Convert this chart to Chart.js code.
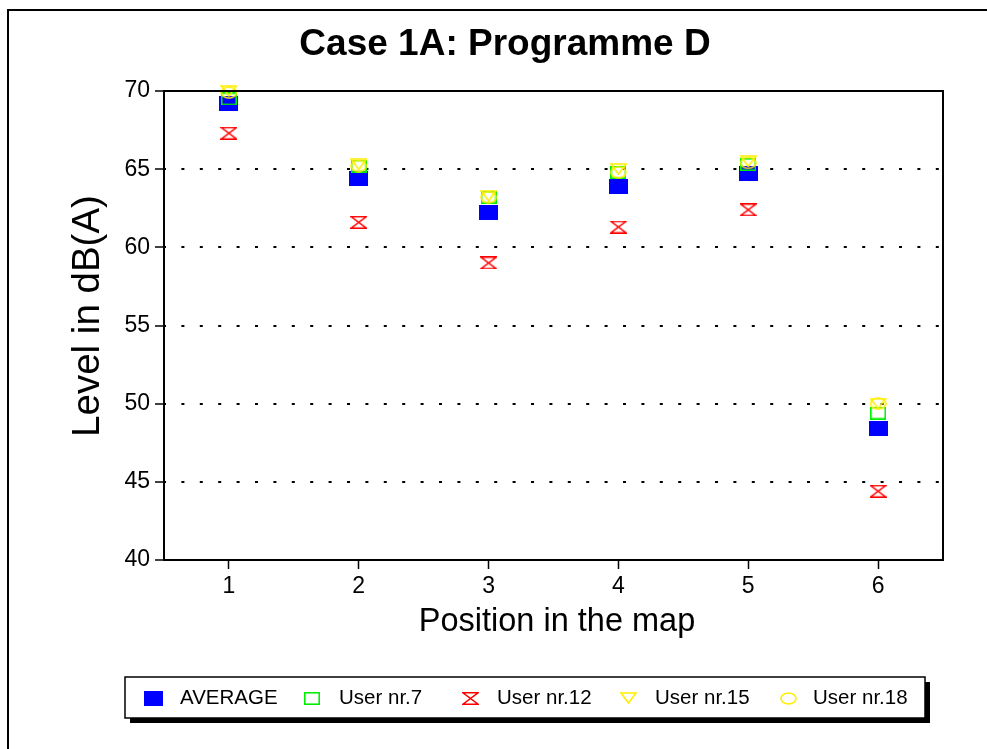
<!DOCTYPE html>
<html>
<head>
<meta charset="utf-8">
<style>
  html, body { margin: 0; padding: 0; background: #ffffff; }
  #wrap { width: 987px; height: 749px; }
</style>
<script src="https://cdn.jsdelivr.net/npm/chart.js@4/dist/chart.umd.min.js"></script>
</head>
<body>
<div id="wrap"><canvas id="c" width="987" height="749"></canvas></div>
<script>
// Measurement positions and levels (dB(A)) per listener
const positions = [1, 2, 3, 4, 5, 6];
const average = [69.2, 64.4, 62.2, 63.9, 64.7, 48.4];
const user7   = [69.5, 65.2, 63.2, 64.8, 65.3, 49.4];
const user12  = [67.3, 61.6, 59.0, 61.3, 62.4, 44.4];
const user15  = [70.0, 65.3, 63.3, 65.0, 65.5, 50.0];
const user18  = [69.9, 65.2, 63.2, 64.8, 65.4, 50.0];
const yTicks = [40, 45, 50, 55, 60, 65, 70];
const seriesNames = ['AVERAGE', 'User nr.7', 'User nr.12', 'User nr.15', 'User nr.18'];

const FONT = '"Liberation Sans", Arial, Helvetica, sans-serif';

// Marker bitmaps (slightly wider than tall)
function makeMarker(w, h, draw) {
  const cv = document.createElement('canvas');
  cv.width = w; cv.height = h;
  const g = cv.getContext('2d');
  draw(g, w, h);
  return cv;
}
const mkFilledRect = makeMarker(19, 15, (g, w, h) => {
  g.fillStyle = '#0000ff'; g.fillRect(0, 0, w, h);
});
const mkOpenRect = makeMarker(16, 13, (g, w, h) => {
  g.strokeStyle = '#00ee00'; g.lineWidth = 1.6; g.strokeRect(0.8, 0.8, w - 1.6, h - 1.6);
});
const mkHourglass = makeMarker(17, 13, (g, w, h) => {
  g.strokeStyle = '#ff0000'; g.lineWidth = 1.4;
  g.beginPath();
  g.moveTo(1, 0.8); g.lineTo(w - 1, 0.8);
  g.lineTo(1, h - 0.8); g.lineTo(w - 1, h - 0.8);
  g.closePath();
  g.stroke();
});
const mkTriangle = makeMarker(17, 12, (g, w, h) => {
  g.strokeStyle = '#ffee00'; g.lineWidth = 1.6;
  g.beginPath();
  g.moveTo(1, 1); g.lineTo(w - 1, 1); g.lineTo(w / 2, h - 1); g.closePath();
  g.stroke();
});
const mkCircle = makeMarker(17, 13, (g, w, h) => {
  g.strokeStyle = '#ffee00'; g.lineWidth = 1.6;
  g.beginPath();
  g.ellipse(w / 2, h / 2, w / 2 - 1, h / 2 - 1, 0, 0, Math.PI * 2);
  g.stroke();
});
const markers = [mkFilledRect, mkOpenRect, mkHourglass, mkTriangle, mkCircle];
const seriesValues = [average, user7, user12, user15, user18];

const toPoints = vals => positions.map((p, i) => ({ x: p, y: vals[i] }));

const datasets = seriesNames.map((name, k) => ({
  label: name,
  data: toPoints(seriesValues[k]),
  pointStyle: markers[k],
  pointRadius: 8,
  pointHoverRadius: 8,
  showLine: false,
  order: 5 - k,
  clip: false
}));

const PLOT = { left: 164, top: 91, right: 943, bottom: 560 };

// Frame, plot box, titles and boxed legend
const decorations = {
  id: 'decorations',
  beforeDraw(chart) {
    const ctx = chart.ctx;
    ctx.save();
    ctx.fillStyle = '#ffffff';
    ctx.fillRect(0, 0, chart.width, chart.height);
    ctx.strokeStyle = '#000000';
    ctx.lineWidth = 2;
    ctx.beginPath();
    ctx.moveTo(8, chart.height + 2);
    ctx.lineTo(8, 10);
    ctx.lineTo(chart.width + 2, 10);
    ctx.stroke();
    ctx.restore();
  },
  afterDatasetsDraw(chart) {
    const ctx = chart.ctx;
    const a = chart.chartArea;
    ctx.save();
    ctx.strokeStyle = '#000000';
    ctx.lineWidth = 2;
    ctx.strokeRect(a.left, a.top, a.right - a.left, a.bottom - a.top);
    ctx.restore();
  },
  afterDraw(chart) {
    const ctx = chart.ctx;
    ctx.save();
    ctx.fillStyle = '#000000';
    ctx.textAlign = 'center';
    ctx.textBaseline = 'middle';
    ctx.font = 'bold 37px ' + FONT;
    ctx.fillText('Case 1A: Programme D', 505, 45);

    ctx.font = '32.5px ' + FONT;
    ctx.fillText('Position in the map', 557, 622);

    ctx.save();
    ctx.translate(88, 316);
    ctx.rotate(-Math.PI / 2);
    ctx.font = '38.5px ' + FONT;
    ctx.fillText('Level in dB(A)', 0, 0);
    ctx.restore();

    // legend box with drop shadow
    const lx = 125, ly = 677, lw = 800, lh = 41;
    ctx.fillStyle = '#000000';
    ctx.fillRect(lx + 5, ly + 5, lw, lh);
    ctx.fillStyle = '#ffffff';
    ctx.fillRect(lx, ly, lw, lh);
    ctx.strokeStyle = '#000000';
    ctx.lineWidth = 1.5;
    ctx.strokeRect(lx, ly, lw, lh);

    const cy = 698;
    const markerX = [153, 312, 470, 628, 788];
    const textX = [180, 339, 497, 655, 813];
    ctx.font = '20.5px ' + FONT;
    ctx.textAlign = 'left';
    ctx.fillStyle = '#000000';
    chart.data.datasets.forEach((ds, k) => {
      const m = ds.pointStyle;
      ctx.drawImage(m, Math.round(markerX[k] - m.width / 2), Math.round(cy - m.height / 2));
      ctx.fillText(ds.label, textX[k], cy);
    });
    ctx.restore();
  }
};

new Chart(document.getElementById('c'), {
  type: 'scatter',
  data: { datasets },
  plugins: [decorations],
  options: {
    responsive: false,
    animation: false,
    events: [],
    layout: {
      autoPadding: false,
      padding: { left: 0, top: PLOT.top, right: 987 - PLOT.right, bottom: 0 }
    },
    plugins: {
      legend: { display: false },
      title: { display: false },
      tooltip: { enabled: false }
    },
    scales: {
      x: {
        type: 'linear',
        min: 0.5,
        max: 6.5,
        afterBuildTicks: s => { s.ticks = positions.map(v => ({ value: v })); },
        afterFit: s => { s.height = 749 - PLOT.bottom; },
        border: { display: false },
        grid: {
          drawOnChartArea: false,
          drawTicks: true,
          tickLength: 9,
          tickColor: '#000000',
          tickWidth: 1.5
        },
        ticks: {
          padding: 4,
          color: '#000000',
          font: { family: FONT, size: 23 },
          maxRotation: 0,
          callback: v => String(v)
        }
      },
      y: {
        type: 'linear',
        min: 40,
        max: 70,
        afterBuildTicks: s => { s.ticks = yTicks.map(v => ({ value: v })); },
        afterFit: s => { s.width = PLOT.left; },
        border: { display: false, dash: [3, 15.4], dashOffset: 1 },
        grid: {
          drawTicks: true,
          tickLength: 9,
          tickColor: '#000000',
          tickWidth: 1.5,
          tickBorderDash: [],
          color: ctx => (ctx.tick && (ctx.tick.value === 40 || ctx.tick.value === 70)) ? 'rgba(0,0,0,0)' : '#000000',
          lineWidth: 2
        },
        ticks: {
          padding: 5,
          color: '#000000',
          font: { family: FONT, size: 23 },
          callback: v => String(v)
        }
      }
    }
  }
});
</script>
</body>
</html>
